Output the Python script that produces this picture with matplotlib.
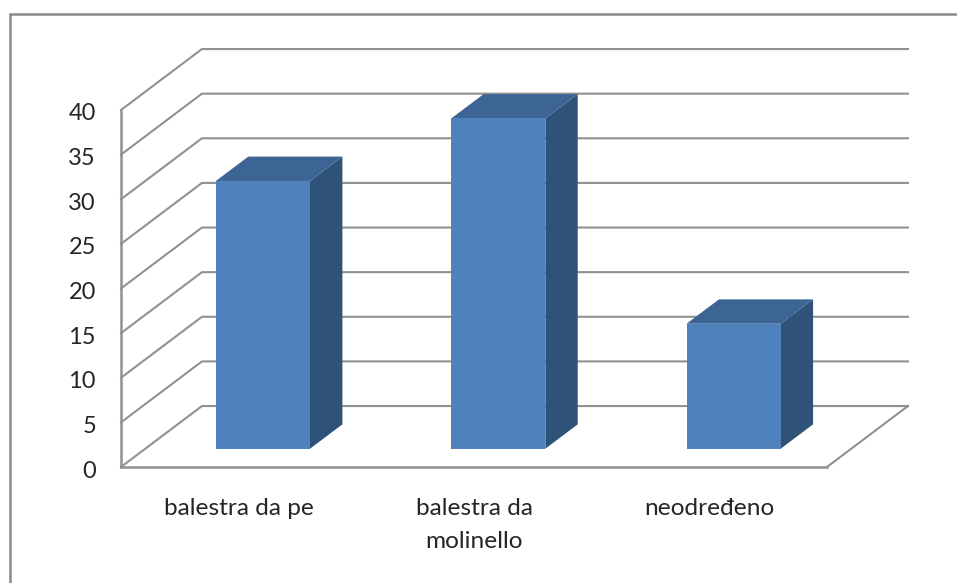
import matplotlib
matplotlib.use("Agg")
import matplotlib.pyplot as plt
from matplotlib.lines import Line2D
from matplotlib.patches import Polygon
from matplotlib.transforms import ScaledTranslation

plt.rcParams["font.family"] = ["Lato", "DejaVu Sans"]

# data
CATEGORIES = ["balestra da pe", "balestra da\nmolinello", "neodređeno"]
VALUES = [30, 37, 14]
Y_TICKS = [0, 5, 10, 15, 20, 25, 30, 35, 40]

# oblique look, in data units per full depth of the floor
DEPTH_X = 0.344
DEPTH_Y = 6.83
BAR_DEPTH_START = 0.3
BAR_DEPTH_END = 0.7
BAR_WIDTH = 0.4

GRID_COLOR = "#919191"
FRONT_COLOR = "#4f81bd"
TOP_COLOR = "#3c6595"
SIDE_COLOR = "#2f5279"
TEXT_COLOR = "#262626"
W, H = 957, 583


def project(x, y, depth):
    return x + depth * DEPTH_X, y + depth * DEPTH_Y


fig = plt.figure(figsize=(W / 100, H / 100), dpi=100)
ax = fig.add_axes([121 / W, (H - 467) / H, (827 - 121) / W, (467 - 110) / H])
ax.set_xlim(0, len(CATEGORIES))
ax.set_ylim(0, 40)

# walls: diagonal from the front axis, then along the back
for tick in Y_TICKS:
    x0, y0 = project(0, tick, 0)
    x1, y1 = project(0, tick, 1)
    x2, y2 = project(len(CATEGORIES), tick, 1)
    ax.plot([x0, x1, x2], [y0, y1, y2], color=GRID_COLOR, lw=1.5, clip_on=False, zorder=1, solid_joinstyle="miter")

# floor right edge
fx0, fy0 = project(len(CATEGORIES), 0, 0)
fx1, fy1 = project(len(CATEGORIES), 0, 1)
ax.plot([fx0, fx1], [fy0, fy1], color=GRID_COLOR, lw=1.5, clip_on=False, zorder=1)

for i, value in enumerate(VALUES):
    left = i + 0.5 - BAR_WIDTH / 2
    right = i + 0.5 + BAR_WIDTH / 2
    fl_b = project(left, 0, BAR_DEPTH_START)
    fr_b = project(right, 0, BAR_DEPTH_START)
    fl_t = project(left, value, BAR_DEPTH_START)
    fr_t = project(right, value, BAR_DEPTH_START)
    bl_t = project(left, value, BAR_DEPTH_END)
    br_t = project(right, value, BAR_DEPTH_END)
    br_b = project(right, 0, BAR_DEPTH_END)
    ax.add_patch(Polygon([fr_b, br_b, br_t, fr_t], fc=SIDE_COLOR, ec="none", clip_on=False, zorder=3))
    ax.add_patch(Polygon([fl_t, fr_t, br_t, bl_t], fc=TOP_COLOR, ec="none", clip_on=False, zorder=3))
    ax.add_patch(Polygon([fl_b, fr_b, fr_t, fl_t], fc=FRONT_COLOR, ec="none", clip_on=False, zorder=4))

for side in ["top", "right"]:
    ax.spines[side].set_visible(False)
for side in ["left", "bottom"]:
    ax.spines[side].set_color(GRID_COLOR)
    ax.spines[side].set_linewidth(1.8)
ax.patch.set_visible(False)

ax.set_yticks(Y_TICKS)
ax.set_xticks([i + 0.5 for i in range(len(CATEGORIES))])
ax.set_xticklabels(CATEGORIES, linespacing=1.75)
ax.tick_params(axis="y", length=0, pad=18, labelsize=17, labelcolor=TEXT_COLOR)
ax.tick_params(axis="x", length=0, pad=22, labelsize=17.6, labelcolor=TEXT_COLOR)

# nudge the numbers down a little, they sit lower than the tick centre
nudge = ScaledTranslation(0, -2 / 100, fig.dpi_scale_trans)
for label in ax.get_yticklabels():
    label.set_transform(label.get_transform() + nudge)

# outer chart frame, only left and top end inside the picture
frame = Line2D([9.5 / W, 9.5 / W, 1], [0, 1 - 13.5 / H, 1 - 13.5 / H], transform=fig.transFigure, color="#8a8a8a", lw=1.8, solid_joinstyle="miter")
fig.add_artist(frame)

fig.savefig("out.png", dpi=100)
